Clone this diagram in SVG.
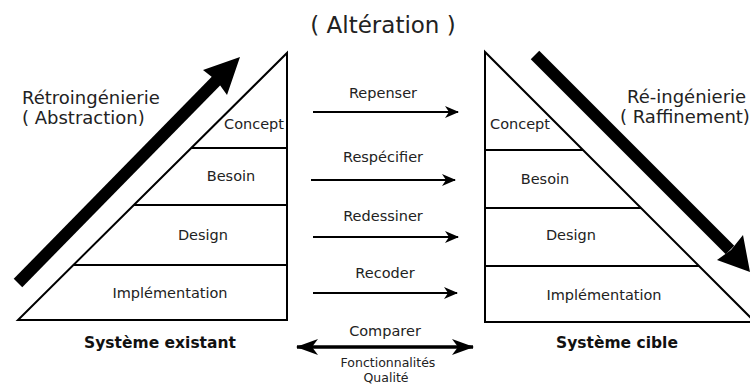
<svg xmlns="http://www.w3.org/2000/svg" width="750" height="387" viewBox="0 0 750 387">
<style>
text{font-family:"DejaVu Sans","Liberation Sans",sans-serif;fill:#222}
.lvl{font-size:14.5px;text-anchor:middle}
.big{font-size:18px}
.lab{font-size:14.5px;text-anchor:middle}
.sys{font-size:15.5px;font-weight:bold;text-anchor:middle;fill:#111}
.small{font-size:12.5px;text-anchor:middle}
.edge{fill:none;stroke:#000;stroke-width:2}
.thin{stroke:#000;stroke-width:2;fill:none}
</style>
<defs>
<marker id="ah" viewBox="0 0 14 12" refX="13" refY="6" markerWidth="14" markerHeight="12" markerUnits="userSpaceOnUse" orient="auto">
<path d="M0,0 L14,6 L0,12 L4,6 Z" fill="#000"/>
</marker>
<marker id="ah2" viewBox="0 0 22 16" refX="21" refY="8" markerWidth="22" markerHeight="16" markerUnits="userSpaceOnUse" orient="auto-start-reverse">
<path d="M0,0 L22,8 L0,16 L6,8 Z" fill="#000"/>
</marker>
</defs>
<text x="383" y="33" font-size="23" text-anchor="middle">( Altération )</text>
<g id="left-system">
<path class="edge" d="M287,53 L287,320 L18,320 Z"/>
<line class="edge" x1="191" y1="148" x2="287" y2="148"/>
<line class="edge" x1="134" y1="205" x2="287" y2="205"/>
<line class="edge" x1="74" y1="265" x2="287" y2="265"/>
<text class="lvl" x="254" y="129">Concept</text>
<text class="lvl" x="231" y="181">Besoin</text>
<text class="lvl" x="203" y="240">Design</text>
<text class="lvl" x="170" y="298">Implémentation</text>
<text class="sys" x="160" y="348">Système existant</text>
</g>
<g id="right-system">
<path class="edge" d="M485,52 L485,322 L755,322 Z"/>
<line class="edge" x1="485" y1="150" x2="583" y2="150"/>
<line class="edge" x1="485" y1="208" x2="641" y2="208"/>
<line class="edge" x1="485" y1="266" x2="699" y2="266"/>
<text class="lvl" x="520" y="129">Concept</text>
<text class="lvl" x="545" y="184">Besoin</text>
<text class="lvl" x="571" y="240">Design</text>
<text class="lvl" x="604" y="300">Implémentation</text>
<text class="sys" x="617" y="348">Système cible</text>
</g>
<g id="retro">
<line x1="18" y1="283" x2="218" y2="79" stroke="#000" stroke-width="12"/>
<path d="M240,57 L227,95 L217,81 L203,70 Z" fill="#000"/>
<text class="big" x="22" y="104">Rétroingénierie</text>
<text class="big" x="22" y="124">( Abstraction)</text>
</g>
<g id="reing">
<line x1="535" y1="55" x2="730" y2="250" stroke="#000" stroke-width="12"/>
<path d="M750,272 L717,260 L731,250 L743,235 Z" fill="#000"/>
<text class="big" x="627" y="103">Ré-ingénierie</text>
<text class="big" x="620" y="123">( Raffinement)</text>
</g>
<g id="connectors">
<line class="thin" x1="313" y1="112" x2="458" y2="112" marker-end="url(#ah)"/>
<line class="thin" x1="311" y1="180" x2="455" y2="180" marker-end="url(#ah)"/>
<line class="thin" x1="313" y1="237" x2="458" y2="237" marker-end="url(#ah)"/>
<line class="thin" x1="313" y1="293" x2="457" y2="293" marker-end="url(#ah)"/>
<line x1="297" y1="347" x2="473" y2="347" stroke="#000" stroke-width="3.5" marker-start="url(#ah2)" marker-end="url(#ah2)"/>
<text class="lab" x="383" y="98">Repenser</text>
<text class="lab" x="383" y="162">Respécifier</text>
<text class="lab" x="383" y="221">Redessiner</text>
<text class="lab" x="385" y="278">Recoder</text>
<text class="lab" x="385" y="336">Comparer</text>
<text class="small" x="388" y="367">Fonctionnalités</text>
<text class="small" x="386" y="382">Qualité</text>
</g>
</svg>
